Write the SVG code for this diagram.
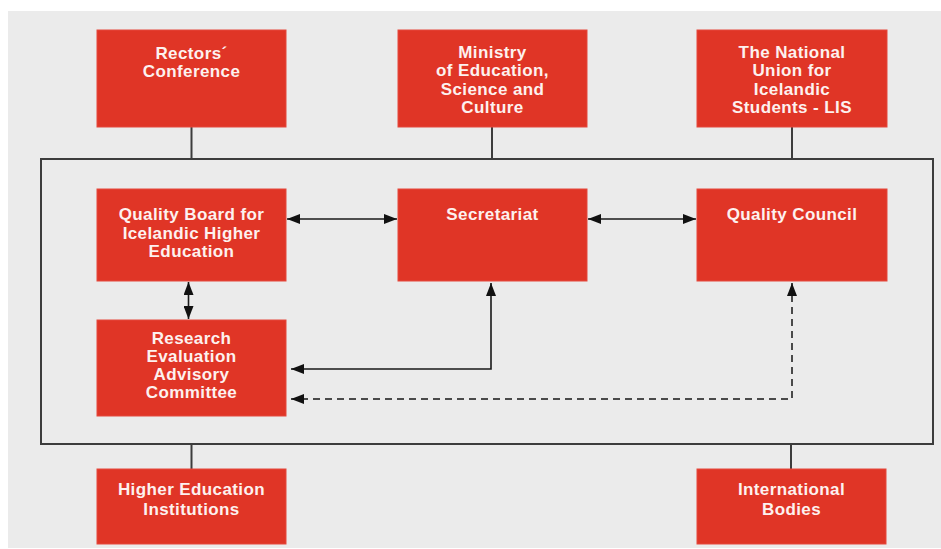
<svg xmlns="http://www.w3.org/2000/svg" width="941" height="549" viewBox="0 0 941 549">
<defs>
<style>
.box{fill:#e03526;stroke:#e5493c;stroke-width:1}
.t{font-family:"Liberation Sans",Arial,sans-serif;font-weight:bold;font-size:17px;fill:#fdf1ef;text-anchor:middle;letter-spacing:0.4px}
.frame{fill:none;stroke:#3c3c3c;stroke-width:2}
.link{fill:none;stroke:#3c3c3c;stroke-width:2}
.arr{fill:none;stroke:#1a1a1a;stroke-width:1.6}
.dash{fill:none;stroke:#4a4a4a;stroke-width:2;stroke-dasharray:7,5}
</style>
<marker id="ah" viewBox="0 0 13 10" refX="13" refY="5" markerWidth="13" markerHeight="10" markerUnits="userSpaceOnUse" orient="auto-start-reverse">
<path d="M0,0 L13,5 L0,10 Z" fill="#111"/>
</marker>
</defs>
<rect x="8" y="11" width="933" height="537" fill="#ebebeb"/>
<g id="connectors">
<rect class="frame" x="41" y="159" width="892" height="285"/>
<line class="link" x1="191.5" y1="127" x2="191.5" y2="159"/>
<line class="link" x1="492" y1="127" x2="492" y2="159"/>
<line class="link" x1="792" y1="127" x2="792" y2="159"/>
<line class="link" x1="191.5" y1="444" x2="191.5" y2="469"/>
<line class="link" x1="791" y1="444" x2="791" y2="469"/>
<line class="arr" x1="287" y1="219" x2="397" y2="219" marker-start="url(#ah)" marker-end="url(#ah)"/>
<line class="arr" x1="588" y1="219" x2="696" y2="219" marker-start="url(#ah)" marker-end="url(#ah)"/>
<line class="arr" x1="188.5" y1="282" x2="188.5" y2="319" marker-start="url(#ah)" marker-end="url(#ah)"/>
<polyline class="arr" points="491,283 491,369 291,369" marker-start="url(#ah)" marker-end="url(#ah)"/>
<polyline class="dash" points="792,283 792,399 291,399" marker-start="url(#ah)" marker-end="url(#ah)"/>
</g>
<g id="rectors">
<rect class="box" x="97" y="30" width="189" height="97"/>
<text class="t" x="191.5" y="59">Rectors´</text>
<text class="t" x="191.5" y="77">Conference</text>
</g>
<g id="ministry">
<rect class="box" x="398" y="30" width="189" height="97"/>
<text class="t" x="492.5" y="58">Ministry</text>
<text class="t" x="492.5" y="76.3">of Education,</text>
<text class="t" x="492.5" y="94.6">Science and</text>
<text class="t" x="492.5" y="112.9">Culture</text>
</g>
<g id="lis">
<rect class="box" x="697" y="30" width="190" height="97"/>
<text class="t" x="792" y="58">The National</text>
<text class="t" x="792" y="76.3">Union for</text>
<text class="t" x="792" y="94.6">Icelandic</text>
<text class="t" x="792" y="112.9">Students - LIS</text>
</g>
<g id="qualityboard">
<rect class="box" x="97" y="189" width="189" height="92"/>
<text class="t" x="191.5" y="220">Quality Board for</text>
<text class="t" x="191.5" y="238.7">Icelandic Higher</text>
<text class="t" x="191.5" y="257.4">Education</text>
</g>
<g id="secretariat">
<rect class="box" x="398" y="189" width="189" height="92"/>
<text class="t" x="492.5" y="220">Secretariat</text>
</g>
<g id="qualitycouncil">
<rect class="box" x="697" y="189" width="190" height="92"/>
<text class="t" x="792" y="220">Quality Council</text>
</g>
<g id="research">
<rect class="box" x="97" y="320" width="189" height="96"/>
<text class="t" x="191.5" y="344">Research</text>
<text class="t" x="191.5" y="362">Evaluation</text>
<text class="t" x="191.5" y="380">Advisory</text>
<text class="t" x="191.5" y="398">Committee</text>
</g>
<g id="hei">
<rect class="box" x="97" y="469" width="189" height="75"/>
<text class="t" x="191.5" y="495">Higher Education</text>
<text class="t" x="191.5" y="515">Institutions</text>
</g>
<g id="international">
<rect class="box" x="697" y="469" width="189" height="75"/>
<text class="t" x="791.5" y="495">International</text>
<text class="t" x="791.5" y="515">Bodies</text>
</g>
</svg>
